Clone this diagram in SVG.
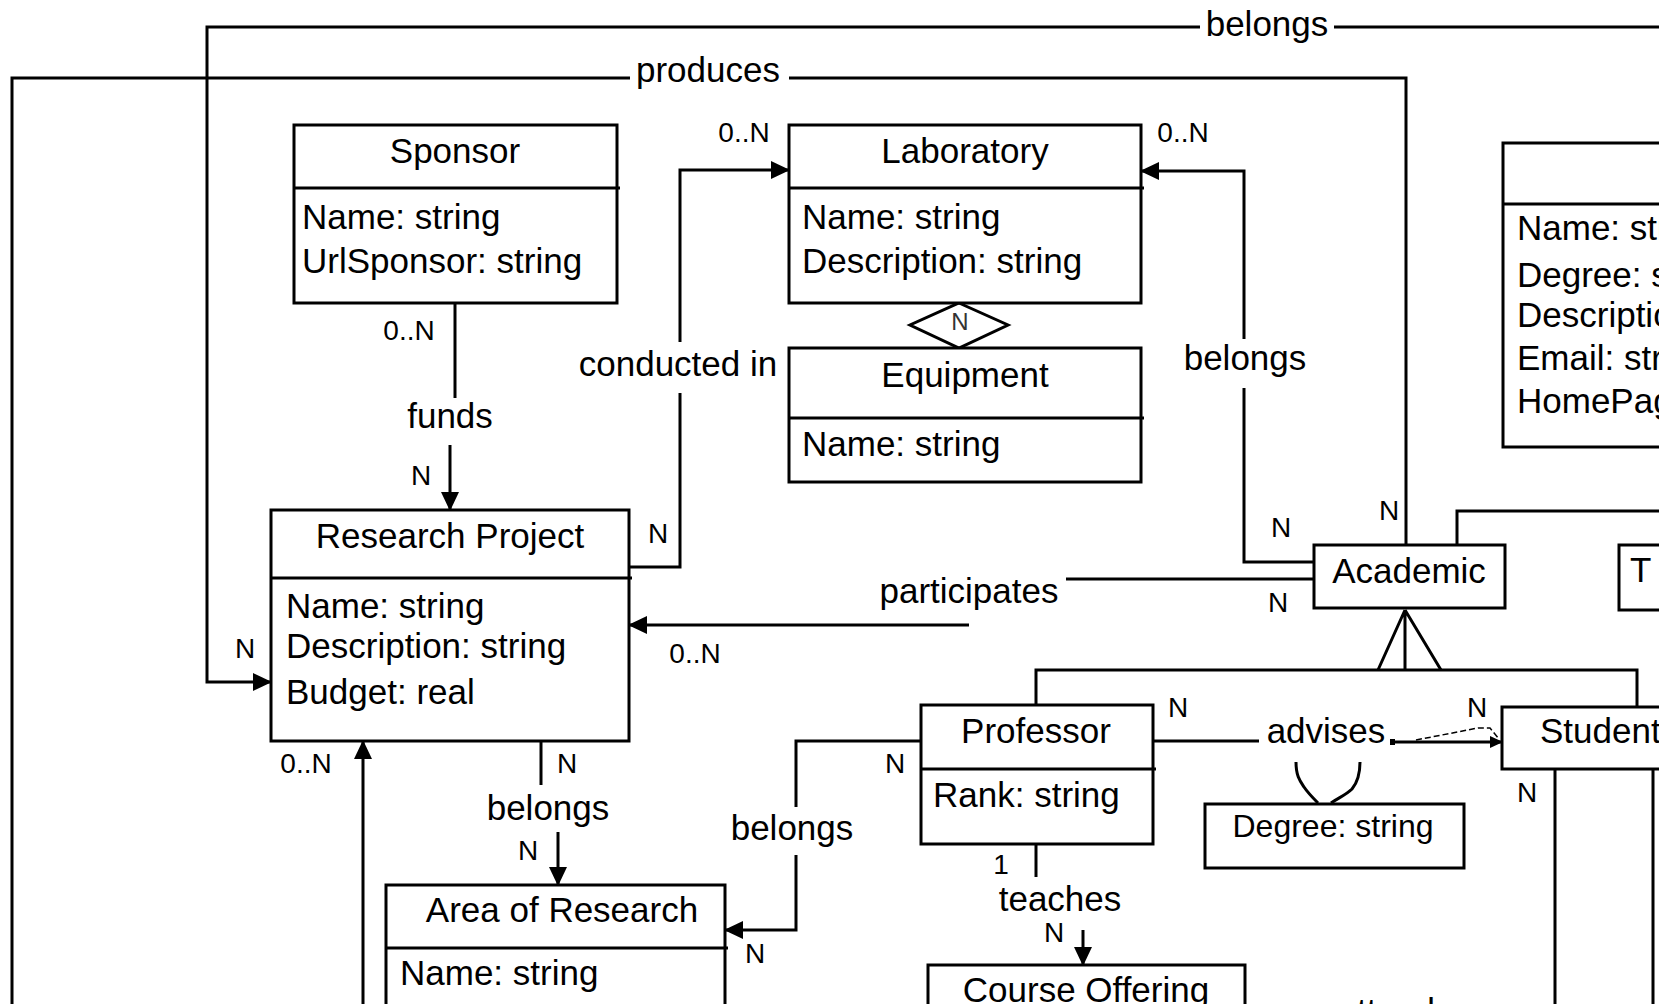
<svg xmlns="http://www.w3.org/2000/svg" width="1659" height="1004" viewBox="0 0 1659 1004">
  <defs>
    <style>
      .box { fill: #fff; stroke: #000; stroke-width: 3; }
      .sep { stroke: #000; stroke-width: 3; }
      .wire { fill: none; stroke: #000; stroke-width: 3; }
      .thin { fill: none; stroke: #000; stroke-width: 1.5; stroke-dasharray: 6 3; }
      .t { font-family: "Liberation Sans", Arial, sans-serif; font-size: 35px; fill: #000; }
      .c { text-anchor: middle; }
      .lbl { font-family: "Liberation Sans", Arial, sans-serif; font-size: 28px; fill: #000; text-anchor: middle; }
    </style>
    <marker id="arrow" markerUnits="userSpaceOnUse" markerWidth="20" markerHeight="18" refX="18" refY="9" orient="auto">
      <path d="M0,0 L19,9 L0,18 z" fill="#000"/>
    </marker>
    <marker id="arrow-sm" markerUnits="userSpaceOnUse" markerWidth="13" markerHeight="12" refX="12" refY="6" orient="auto">
      <path d="M0,0 L13,6 L0,12 z" fill="#000"/>
    </marker>
  </defs>

  <rect width="1659" height="1004" fill="#fff"/>

  <!-- relationships -->
  <g id="connectors">
    <!-- belongs (top) -->
    <path class="wire" d="M1659,27 H1334"/>
    <path class="wire" d="M1200,27 H207 V682 H271" marker-end="url(#arrow)"/>
    <text class="t c" x="1267" y="36">belongs</text>
    <text class="lbl" x="245" y="658">N</text>

    <!-- produces -->
    <path class="wire" d="M12,1004 V78 H630"/>
    <path class="wire" d="M789,78 H1406 V545"/>
    <text class="t c" x="708" y="82">produces</text>
    <text class="lbl" x="1389" y="520">N</text>

    <!-- funds -->
    <path class="wire" d="M455,303 V398"/>
    <path class="wire" d="M450,445 V510" marker-end="url(#arrow)"/>
    <text class="t c" x="450" y="428">funds</text>
    <text class="lbl" x="409" y="340">0..N</text>
    <text class="lbl" x="421" y="485">N</text>

    <!-- conducted in -->
    <path class="wire" d="M629,567 H680 V393"/>
    <path class="wire" d="M680,342 V170 H789" marker-end="url(#arrow)"/>
    <text class="t c" x="678" y="376">conducted in</text>
    <text class="lbl" x="744" y="142">0..N</text>
    <text class="lbl" x="658" y="543">N</text>

    <!-- belongs (Academic to Laboratory) -->
    <path class="wire" d="M1314,562 H1244 V388"/>
    <path class="wire" d="M1244,339 V171 H1141" marker-end="url(#arrow)"/>
    <text class="t c" x="1245" y="370">belongs</text>
    <text class="lbl" x="1183" y="142">0..N</text>
    <text class="lbl" x="1281" y="537">N</text>

    <!-- participates -->
    <path class="wire" d="M1314,579 H1066"/>
    <path class="wire" d="M969,625 H629" marker-end="url(#arrow)"/>
    <text class="t c" x="969" y="603">participates</text>
    <text class="lbl" x="695" y="663">0..N</text>
    <text class="lbl" x="1278" y="612">N</text>

    <!-- aggregation Laboratory / Equipment -->
    <polygon class="box" points="959,303 1008,325 959,348 910,325"/>
    <text class="lbl" x="960" y="330" style="font-size:24px;fill:#333">N</text>

    <!-- generalization of Academic -->
    <path class="wire" d="M1405,610 L1378,670 M1405,610 L1441,670 M1405,610 V670"/>
    <path class="wire" d="M1036,705 V670 H1637 V707"/>
    <path class="wire" d="M1457,545 V511 H1659"/>

    <!-- belongs (Research Project to Area of Research) -->
    <path class="wire" d="M541,741 V785"/>
    <path class="wire" d="M558,832 V885" marker-end="url(#arrow)"/>
    <text class="t c" x="548" y="820">belongs</text>
    <text class="lbl" x="567" y="773">N</text>
    <text class="lbl" x="528" y="860">N</text>

    <!-- upward link into Research Project -->
    <path class="wire" d="M363,1004 V741" marker-end="url(#arrow)"/>
    <text class="lbl" x="306" y="773">0..N</text>

    <!-- belongs (Professor to Area of Research) -->
    <path class="wire" d="M921,741 H796 V807"/>
    <path class="wire" d="M796,855 V930 H725" marker-end="url(#arrow)"/>
    <text class="t c" x="792" y="840">belongs</text>
    <text class="lbl" x="895" y="773">N</text>
    <text class="lbl" x="755" y="963">N</text>

    <!-- teaches -->
    <path class="wire" d="M1036,844 V877"/>
    <path class="wire" d="M1083,930 V965" marker-end="url(#arrow)"/>
    <text class="t c" x="1060" y="911">teaches</text>
    <text class="lbl" x="1001" y="874">1</text>
    <text class="lbl" x="1054" y="942">N</text>

    <!-- advises -->
    <path class="wire" d="M1153,741 H1259"/>
    <rect x="1390" y="739" width="5" height="6" fill="#000"/>
    <path class="wire" d="M1392,742 H1502" marker-end="url(#arrow-sm)"/>
    <path class="thin" d="M1416,740 L1478,728 L1490,728 L1499,739"/>
    <text class="t c" x="1326" y="743">advises</text>
    <text class="lbl" x="1178" y="717">N</text>
    <text class="lbl" x="1477" y="717">N</text>
    <path class="wire" d="M1296,762 C1296,776 1300,781 1304,787 C1308,793 1312,797 1318,803"/>
    <path class="wire" d="M1360,762 C1360,776 1357,783 1352,789 C1346,795 1338,798 1331,803"/>

    <!-- links below Student -->
    <path class="wire" d="M1555,769 V1004 M1653,769 V1004"/>
    <text class="lbl" x="1527" y="802">N</text>
    <text class="t c" x="1395" y="1023">attends</text>
  </g>

  <g id="sponsor">
    <rect class="box" x="294" y="125" width="323" height="178"/>
    <line class="sep" x1="294" y1="188" x2="620" y2="188"/>
    <text class="t c" x="455" y="163">Sponsor</text>
    <text class="t" x="302" y="229">Name: string</text>
    <text class="t" x="302" y="273">UrlSponsor: string</text>
  </g>

  <g id="laboratory">
    <rect class="box" x="789" y="125" width="352" height="178"/>
    <line class="sep" x1="789" y1="188" x2="1144" y2="188"/>
    <text class="t c" x="965" y="163">Laboratory</text>
    <text class="t" x="802" y="229">Name: string</text>
    <text class="t" x="802" y="273">Description: string</text>
  </g>

  <g id="equipment">
    <rect class="box" x="789" y="348" width="352" height="134"/>
    <line class="sep" x1="789" y1="418" x2="1144" y2="418"/>
    <text class="t c" x="965" y="387">Equipment</text>
    <text class="t" x="802" y="456">Name: string</text>
  </g>

  <g id="research-project">
    <rect class="box" x="271" y="510" width="358" height="231"/>
    <line class="sep" x1="271" y1="578" x2="632" y2="578"/>
    <text class="t c" x="450" y="548">Research Project</text>
    <text class="t" x="286" y="618">Name: string</text>
    <text class="t" x="286" y="658">Description: string</text>
    <text class="t" x="286" y="704">Budget: real</text>
  </g>

  <g id="area-of-research">
    <rect class="box" x="386" y="885" width="339" height="200"/>
    <line class="sep" x1="386" y1="948" x2="728" y2="948"/>
    <text class="t c" x="562" y="922">Area of Research</text>
    <text class="t" x="400" y="985">Name: string</text>
  </g>

  <g id="researcher">
    <rect class="box" x="1503" y="143" width="220" height="304"/>
    <line class="sep" x1="1503" y1="204" x2="1723" y2="204"/>
    <text class="t" x="1517" y="240">Name: string</text>
    <text class="t" x="1517" y="287">Degree: string</text>
    <text class="t" x="1517" y="327">Description: string</text>
    <text class="t" x="1517" y="370">Email: string</text>
    <text class="t" x="1517" y="413">HomePage: string</text>
  </g>

  <g id="academic">
    <rect class="box" x="1314" y="545" width="191" height="63"/>
    <text class="t c" x="1409" y="583">Academic</text>
  </g>

  <g id="t-node">
    <rect class="box" x="1619" y="545" width="100" height="65"/>
    <text class="t" x="1630" y="582">T</text>
  </g>

  <g id="professor">
    <rect class="box" x="921" y="705" width="232" height="139"/>
    <line class="sep" x1="921" y1="769" x2="1156" y2="769"/>
    <text class="t c" x="1036" y="743">Professor</text>
    <text class="t" x="933" y="807">Rank: string</text>
  </g>

  <g id="student">
    <rect class="box" x="1502" y="707" width="220" height="62"/>
    <text class="t" x="1540" y="743">Student</text>
  </g>

  <g id="advises-degree">
    <rect class="box" x="1205" y="804" width="259" height="64"/>
    <text class="t c" x="1333" y="837" style="font-size:32px">Degree: string</text>
  </g>

  <g id="course-offering">
    <rect class="box" x="928" y="965" width="317" height="120"/>
    <text class="t c" x="1086" y="1002">Course Offering</text>
  </g>
</svg>
